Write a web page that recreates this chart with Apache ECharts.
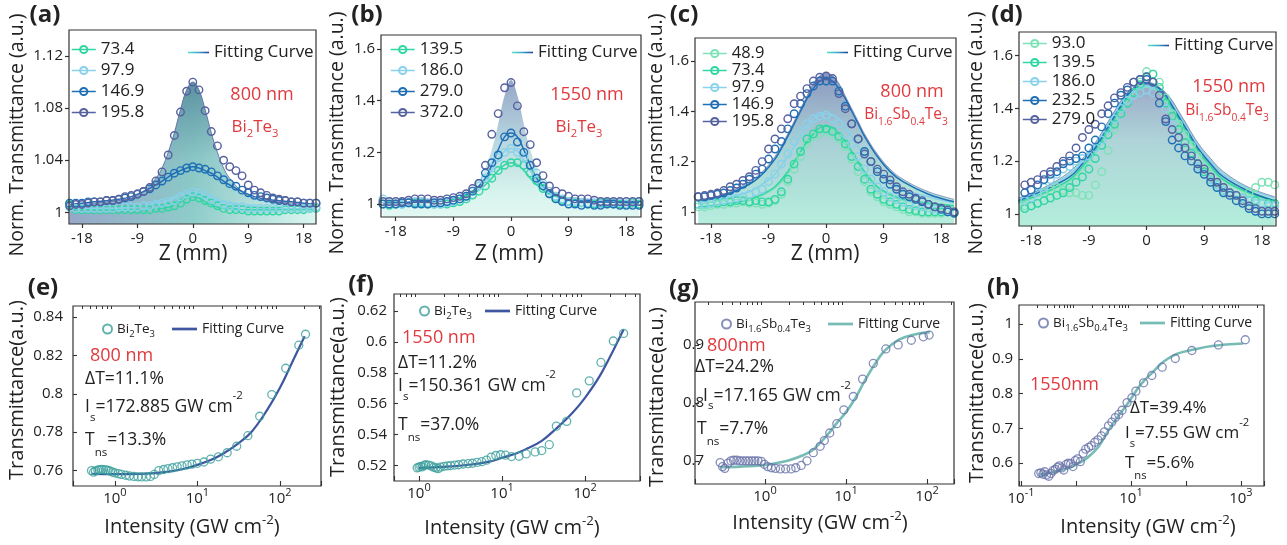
<!DOCTYPE html>
<html>
<head>
<meta charset="utf-8">
<title>Z-scan and saturable absorption</title>
<script src="https://cdn.jsdelivr.net/npm/echarts@6.0.0/dist/echarts.min.js"></script>
<style>
  html, body { margin: 0; padding: 0; background: #fff; }
  #chart { width: 1287px; height: 545px; }
</style>
</head>
<body>
<div id="chart"></div>
<script>
// ---------- data: open-aperture Z-scan (top row) ----------
const zPos = [-20,-19,-18,-17,-16,-15,-14,-13,-12,-11,-10,-9,-8,-7,-6,-5,-4,-3,-2,-1,0,1,2,3,4,5,6,7,8,9,10,11,12,13,14,15,16,17,18,19,20];
const zFit = [-20,-16,-12,-10,-8,-6,-5,-4,-3,-2,-1,0,1,2,3,4,5,6,8,10,12,16,20];
const zTicks = [-18, -9, 0, 9, 18];

// (a) Bi2Te3, 800 nm
const aNames = ['73.4', '97.9', '146.9', '195.8'];
const aT73 = [1.006,1.002,1.002,1.002,1.002,1.002,1.002,1.002,1.002,1.002,1.002,1.002,1.002,1.002,1.003,1.003,1.004,1.005,1.007,1.010,1.012,1.011,1.009,1.007,1.005,1.003,1.002,1.002,1.002,1.001,1.001,1.001,1.001,1.001,1.001,1.002,1.002,1.002,1.002,1.003,1.003];
const aT97 = [1.004,1.003,1.003,1.003,1.003,1.003,1.003,1.003,1.004,1.004,1.004,1.004,1.005,1.005,1.006,1.007,1.008,1.009,1.012,1.014,1.0155,1.015,1.013,1.010,1.008,1.006,1.005,1.004,1.004,1.003,1.003,1.003,1.003,1.003,1.003,1.003,1.003,1.003,1.003,1.003,1.004];
const aT146 = [1.007,1.007,1.007,1.008,1.008,1.008,1.009,1.009,1.010,1.011,1.012,1.014,1.016,1.018,1.021,1.024,1.027,1.030,1.032,1.034,1.035,1.034,1.033,1.031,1.028,1.025,1.022,1.020,1.017,1.015,1.013,1.012,1.011,1.010,1.009,1.009,1.008,1.008,1.007,1.007,1.007];
const aT195 = [1.005,1.006,1.006,1.007,1.008,1.008,1.009,1.009,1.010,1.012,1.013,1.014,1.016,1.019,1.024,1.031,1.044,1.059,1.077,1.093,1.100,1.094,1.078,1.062,1.051,1.040,1.035,1.032,1.028,1.021,1.017,1.015,1.013,1.011,1.010,1.009,1.008,1.008,1.007,1.007,1.007];
const aF73 = [1.002,1.002,1.002,1.002,1.002,1.003,1.003,1.004,1.006,1.008,1.011,1.012,1.011,1.008,1.006,1.004,1.003,1.003,1.002,1.002,1.002,1.002,1.002];
const aF97 = [1.003,1.003,1.003,1.004,1.005,1.007,1.008,1.009,1.011,1.013,1.015,1.0155,1.015,1.013,1.011,1.009,1.008,1.007,1.005,1.004,1.003,1.003,1.003];
const aF146 = [1.006,1.008,1.010,1.012,1.016,1.021,1.024,1.027,1.030,1.032,1.034,1.035,1.034,1.032,1.030,1.027,1.024,1.021,1.016,1.012,1.010,1.008,1.006];
const aF195 = [1.005,1.007,1.009,1.011,1.016,1.026,1.034,1.046,1.061,1.079,1.094,1.100,1.094,1.079,1.061,1.046,1.034,1.026,1.016,1.011,1.009,1.007,1.005];
const aTicksY = [1, 1.04, 1.08, 1.12];

// (b) Bi2Te3, 1550 nm
const bNames = ['139.5', '186.0', '279.0', '372.0'];
const bT139 = [1.00,0.995,1.00,1.00,1.005,1.005,1.005,1.00,1.00,1.00,1.00,1.005,1.01,1.02,1.035,1.05,1.07,1.10,1.13,1.15,1.16,1.16,1.15,1.12,1.09,1.06,1.04,1.025,1.015,1.01,1.005,1.005,1.00,1.00,1.005,1.005,1.00,1.00,1.00,1.005,1.00];
const bT186 = [1.02,1.01,1.00,1.00,1.005,1.01,1.01,1.005,1.00,1.00,1.005,1.01,1.02,1.03,1.05,1.07,1.10,1.14,1.18,1.20,1.215,1.20,1.18,1.15,1.12,1.08,1.05,1.03,1.02,1.01,1.01,1.005,1.005,1.005,1.00,1.00,1.005,1.005,1.00,1.00,1.01];
const bT279 = [1.00,1.00,1.00,1.005,1.005,1.00,1.00,1.00,1.005,1.005,1.01,1.015,1.02,1.03,1.05,1.08,1.12,1.16,1.19,1.26,1.275,1.24,1.20,1.15,1.10,1.07,1.04,1.02,1.01,1.00,1.00,0.995,1.00,0.995,0.995,1.00,1.00,0.995,0.995,0.995,0.995];
const bT372 = [1.01,1.01,1.01,1.01,1.015,1.02,1.02,1.02,1.015,1.015,1.02,1.025,1.03,1.04,1.06,1.08,1.15,1.27,1.35,1.45,1.47,1.38,1.28,1.23,1.16,1.11,1.07,1.05,1.04,1.03,1.02,1.02,1.02,1.015,1.01,1.01,1.01,1.01,1.01,1.01,1.01];
const bF139 = [1.005,1.007,1.010,1.015,1.022,1.040,1.055,1.075,1.100,1.130,1.152,1.160,1.152,1.130,1.100,1.075,1.055,1.040,1.022,1.015,1.010,1.007,1.005];
const bF186 = [1.005,1.007,1.010,1.015,1.025,1.045,1.065,1.090,1.130,1.170,1.205,1.215,1.205,1.170,1.130,1.090,1.065,1.045,1.025,1.015,1.010,1.007,1.005];
const bF279 = [1.005,1.007,1.010,1.015,1.025,1.050,1.070,1.100,1.150,1.210,1.260,1.275,1.260,1.210,1.150,1.100,1.070,1.050,1.025,1.015,1.010,1.007,1.005];
const bF372 = [1.010,1.012,1.020,1.025,1.035,1.060,1.090,1.140,1.210,1.310,1.420,1.480,1.420,1.310,1.210,1.140,1.090,1.060,1.035,1.025,1.020,1.012,1.010];
const bTicksY = [1, 1.2, 1.4, 1.6];

// (c) Bi1.6Sb0.4Te3, 800 nm
const cNames = ['48.9', '73.4', '97.9', '146.9', '195.8'];
const cT48 = [1.02,1.02,1.025,1.03,1.03,1.035,1.035,1.04,1.035,1.035,1.03,1.035,1.045,1.07,1.12,1.17,1.22,1.27,1.30,1.31,1.32,1.31,1.29,1.26,1.21,1.16,1.12,1.08,1.06,1.04,1.03,1.02,1.01,1.00,1.00,0.995,0.995,0.995,0.995,1.00,1.00];
const cT73 = [1.03,1.03,1.035,1.035,1.04,1.04,1.045,1.045,1.04,1.045,1.04,1.04,1.05,1.08,1.13,1.19,1.24,1.29,1.31,1.33,1.33,1.32,1.30,1.27,1.22,1.18,1.13,1.09,1.07,1.05,1.04,1.03,1.02,1.01,1.005,1.00,1.00,1.00,1.00,1.00,0.995];
const cT97 = [1.03,1.03,1.035,1.04,1.045,1.05,1.055,1.06,1.07,1.08,1.09,1.12,1.15,1.19,1.23,1.28,1.32,1.35,1.37,1.38,1.385,1.37,1.35,1.31,1.27,1.22,1.17,1.13,1.10,1.08,1.06,1.05,1.04,1.03,1.025,1.02,1.015,1.01,1.01,1.005,1.00];
const cT146 = [1.06,1.06,1.065,1.07,1.075,1.085,1.095,1.11,1.13,1.15,1.17,1.21,1.25,1.28,1.33,1.39,1.43,1.47,1.50,1.52,1.52,1.52,1.48,1.42,1.35,1.29,1.24,1.20,1.16,1.13,1.11,1.09,1.07,1.06,1.05,1.04,1.03,1.02,1.01,1.00,0.995];
const cT195 = [1.06,1.065,1.07,1.075,1.085,1.10,1.11,1.125,1.14,1.165,1.20,1.25,1.29,1.33,1.37,1.43,1.46,1.49,1.52,1.535,1.54,1.53,1.47,1.41,1.35,1.29,1.23,1.20,1.17,1.15,1.127,1.10,1.08,1.07,1.055,1.045,1.03,1.02,1.015,1.008,1.00];
const cF48 = [1.020,1.030,1.045,1.065,1.095,1.150,1.190,1.230,1.270,1.300,1.320,1.325,1.320,1.300,1.270,1.230,1.190,1.150,1.095,1.065,1.045,1.030,1.020];
const cF73 = [1.020,1.030,1.050,1.070,1.100,1.160,1.200,1.240,1.280,1.310,1.335,1.340,1.335,1.310,1.280,1.240,1.200,1.160,1.100,1.070,1.050,1.035,1.025];
const cF97 = [1.030,1.050,1.080,1.110,1.150,1.220,1.260,1.300,1.340,1.370,1.385,1.390,1.385,1.370,1.340,1.300,1.260,1.220,1.160,1.120,1.090,1.060,1.035];
const cF146 = [1.040,1.065,1.110,1.150,1.210,1.300,1.350,1.400,1.450,1.490,1.520,1.530,1.520,1.490,1.450,1.400,1.350,1.300,1.220,1.160,1.120,1.070,1.040];
const cF195 = [1.045,1.070,1.120,1.160,1.220,1.310,1.360,1.410,1.460,1.510,1.540,1.550,1.540,1.510,1.460,1.410,1.360,1.310,1.230,1.170,1.130,1.080,1.050];

// (d) Bi1.6Sb0.4Te3, 1550 nm
const dNames = ['93.0', '139.5', '186.0', '232.5', '279.0'];
const dT93 = [1.00,1.03,1.03,1.04,1.08,1.09,1.10,1.09,1.08,1.08,1.07,1.07,1.11,1.16,1.24,1.32,1.38,1.43,1.46,1.50,1.54,1.53,1.50,1.44,1.38,1.34,1.30,1.26,1.22,1.18,1.15,1.12,1.10,1.08,1.07,1.06,1.08,1.10,1.12,1.12,1.11];
const dT139 = [1.00,1.02,1.03,1.04,1.05,1.06,1.07,1.08,1.10,1.12,1.14,1.17,1.21,1.26,1.30,1.34,1.38,1.42,1.46,1.49,1.52,1.53,1.48,1.42,1.37,1.32,1.27,1.23,1.19,1.16,1.13,1.11,1.09,1.08,1.07,1.06,1.05,1.05,1.04,1.04,1.04];
const dT186 = [1.04,1.05,1.06,1.08,1.10,1.13,1.15,1.17,1.18,1.20,1.21,1.22,1.25,1.28,1.32,1.36,1.40,1.43,1.45,1.46,1.47,1.46,1.45,1.40,1.34,1.29,1.25,1.22,1.18,1.15,1.13,1.11,1.09,1.08,1.07,1.06,1.05,1.04,1.04,1.03,1.03];
const dT232 = [1.07,1.08,1.09,1.11,1.13,1.15,1.16,1.19,1.20,1.21,1.22,1.25,1.28,1.33,1.38,1.42,1.45,1.47,1.50,1.51,1.51,1.50,1.42,1.35,1.28,1.25,1.22,1.20,1.17,1.15,1.12,1.10,1.08,1.07,1.05,1.04,1.02,1.01,1.00,1.00,1.00];
const dT279 = [1.10,1.11,1.12,1.13,1.15,1.16,1.18,1.20,1.22,1.25,1.29,1.32,1.34,1.38,1.41,1.44,1.46,1.48,1.50,1.51,1.52,1.50,1.45,1.36,1.32,1.29,1.25,1.22,1.19,1.17,1.14,1.12,1.10,1.08,1.07,1.05,1.03,1.02,1.01,1.01,1.01];
const dF93 = [1.040,1.075,1.125,1.170,1.230,1.310,1.350,1.390,1.430,1.460,1.475,1.480,1.475,1.460,1.430,1.390,1.350,1.310,1.230,1.170,1.125,1.075,1.045];
const dF139 = [1.045,1.080,1.130,1.180,1.240,1.320,1.360,1.400,1.440,1.470,1.480,1.485,1.480,1.470,1.440,1.400,1.360,1.320,1.240,1.180,1.130,1.080,1.050];
const dF186 = [1.055,1.095,1.150,1.200,1.260,1.340,1.380,1.420,1.450,1.470,1.480,1.485,1.480,1.470,1.450,1.420,1.380,1.340,1.260,1.200,1.150,1.095,1.060];
const dF232 = [1.050,1.090,1.140,1.190,1.250,1.330,1.370,1.410,1.450,1.475,1.490,1.495,1.490,1.475,1.450,1.410,1.370,1.330,1.250,1.190,1.140,1.085,1.050];
const dF279 = [1.060,1.100,1.160,1.210,1.270,1.350,1.390,1.430,1.460,1.480,1.495,1.500,1.495,1.480,1.460,1.430,1.390,1.350,1.270,1.210,1.160,1.100,1.065];

// ---------- data: transmittance vs intensity (bottom row) ----------
const eI = [0.52,0.55,0.58,0.62,0.65,0.69,0.73,0.78,0.83,0.88,0.94,1.0,1.1,1.2,1.35,1.5,1.7,1.9,2.1,2.4,2.7,3.0,3.4,3.9,4.4,5.0,5.7,6.5,7.5,8.6,10,12,14.5,18,23,30,41,57,80,118,170,205];
const eT = [0.7600,0.7592,0.7598,0.7603,0.7605,0.7606,0.7605,0.7604,0.7601,0.7597,0.7592,0.7588,0.7584,0.7580,0.7576,0.7572,0.7570,0.7568,0.7567,0.7567,0.7570,0.7580,0.7600,0.7606,0.7610,0.7615,0.7620,0.7625,0.7630,0.7634,0.7638,0.7645,0.7660,0.7672,0.7693,0.7727,0.7782,0.7883,0.7996,0.8133,0.8253,0.8310];
const eFitI = [0.52,1,2,4,7,10,15,20,30,45,70,100,140,200];
const eFitT = [0.7583,0.7582,0.7583,0.7592,0.7610,0.7630,0.7658,0.7685,0.7735,0.7800,0.7915,0.8030,0.8160,0.8300];
const eTicksY = [0.76, 0.78, 0.8, 0.82, 0.84];
const eMinor = [0.4,0.5,0.6,0.7,0.8,0.9,2,3,4,5,6,7,8,9,20,30,40,50,60,70,80,90,200,300];

const fI = [0.95,1.0,1.05,1.1,1.15,1.2,1.3,1.4,1.5,1.6,1.7,1.8,2.0,2.2,2.4,2.7,3.0,3.4,3.9,4.4,5.0,5.7,6.5,7.4,8.4,9.6,11,13,16,19.5,25,30,37,45,60,79,112,155,218,290];
const fT = [0.5185,0.519,0.5195,0.5192,0.52,0.5205,0.5203,0.5198,0.519,0.5185,0.518,0.519,0.5195,0.5198,0.52,0.5203,0.5205,0.521,0.5212,0.5215,0.522,0.5225,0.5235,0.5255,0.5265,0.527,0.5267,0.5258,0.526,0.5275,0.5288,0.5297,0.5335,0.5455,0.5486,0.567,0.5748,0.5867,0.6006,0.6055];
const fFitI = [1,2,4,7,10,15,20,30,45,70,100,150,220,290];
const fFitT = [0.5185,0.5192,0.5205,0.5225,0.525,0.528,0.531,0.536,0.544,0.554,0.564,0.578,0.595,0.608];
const fTicksY = [0.52, 0.54, 0.56, 0.58, 0.6, 0.62];
const fMinor = [0.6,0.7,0.8,0.9,2,3,4,5,6,7,8,9,20,30,40,50,60,70,80,90,200,300,400];

const gI = [0.28,0.30,0.32,0.35,0.38,0.41,0.45,0.49,0.53,0.58,0.63,0.69,0.75,0.82,0.90,0.98,1.08,1.2,1.35,1.55,1.8,2.1,2.4,2.8,3.3,3.95,4.8,5.4,6.3,7.7,9.4,12.3,16,21.7,31,44,64,90,106];
const gT = [0.697,0.690,0.687,0.696,0.700,0.701,0.701,0.700,0.700,0.700,0.700,0.700,0.700,0.700,0.699,0.694,0.690,0.688,0.687,0.686,0.686,0.686,0.688,0.692,0.700,0.714,0.725,0.735,0.748,0.764,0.788,0.811,0.841,0.868,0.893,0.900,0.908,0.914,0.917];
const gFitI = [0.28,0.5,1,1.5,2,3,4,6,8,10,13,17,22,30,45,70,108];
const gFitT = [0.689,0.690,0.693,0.697,0.701,0.710,0.720,0.746,0.768,0.784,0.808,0.838,0.864,0.890,0.909,0.918,0.922];
const gTicksY = [0.7, 0.8, 0.9];
const gMinor = [0.2,0.3,0.4,0.5,0.6,0.7,0.8,0.9,2,3,4,5,6,7,8,9,20,30,40,50,60,70,80,90,200];

const hI = [0.21,0.23,0.25,0.27,0.29,0.32,0.35,0.38,0.42,0.46,0.5,0.55,0.6,0.66,0.73,0.8,0.88,0.97,1.07,1.2,1.35,1.5,1.7,1.9,2.2,2.5,2.9,3.3,3.9,4.5,5.2,6.0,6.9,8.5,10.4,12.3,17,24,37,64,128,390,1200];
const hT = [0.570,0.572,0.568,0.575,0.566,0.562,0.570,0.578,0.582,0.588,0.592,0.586,0.580,0.596,0.600,0.598,0.590,0.607,0.612,0.604,0.628,0.640,0.645,0.650,0.660,0.667,0.678,0.690,0.707,0.718,0.731,0.740,0.752,0.774,0.788,0.807,0.831,0.852,0.876,0.901,0.924,0.940,0.955];
const hFitI = [0.21,0.4,0.7,1,1.6,2.5,4,6,8,10,15,25,40,70,130,300,1100];
const hFitT = [0.566,0.574,0.585,0.595,0.615,0.645,0.697,0.737,0.763,0.785,0.826,0.862,0.893,0.915,0.926,0.937,0.944];
const hTicksY = [0.6, 0.7, 0.8, 0.9, 1];
const hMinor = [0.2,0.3,0.4,0.5,0.6,0.7,0.8,0.9,2,3,4,5,6,7,8,9,20,30,40,50,60,70,80,90,200,300,400,500,600,700,800,900,2000];

// ---------- styling ----------
const FONT = 'Open Sans';
const INK = '#222';
const C = {
  lgreen: '#7fe2b6', green: '#2fd6a2', lblue: '#88d1ea', blue: '#1f6fb6', slate: '#56619f',
  red: '#e0393e', teal: '#3a9f9b', navy: '#3e56a0', fitTeal: '#76bcb4', pts: '#6872a8'
};
const lin = (x2, y2, stops) => ({
  type: 'linear', x: 0, y: 0, x2, y2, global: false,
  colorStops: stops.map(([offset, color]) => ({ offset, color }))
});
const pair = (xs, ys) => xs.map((x, i) => [x, ys[i]]);
const fitIconGrad = lin(1, 0, [[0, '#55e0bf'], [0.5, '#39a6cf'], [1, '#1d3f95']]);
const FIT_ICON = 'path://M0,0H24V1.8H0Z';
const BFIT_ICON = 'path://M0,0H24V2.6H0Z';

const topPanels = [
  { key: 'a', box: [69, 30, 247, 194], xr: [-20.1, 20], yr: [0.991, 1.14], yTicks: aTicksY,
    names: aNames, pts: [aT73, aT97, aT146, aT195], fits: [aF73, aF97, aF146, aF195],
    colors: [C.green, C.lblue, C.blue, C.slate], topLine: 1,
    fills: [lin(1, 0, [[0, '#97a7c9'], [0.5, '#8fcdca'], [1, '#dcf7f1']]),
            lin(0, 1, [[0, 'rgba(38,88,120,0.5)'], [0.55, 'rgba(38,88,120,0.06)'], [1, 'rgba(38,88,120,0)']])],
    leg: { left: 71, top: 41, size: 17, lh: 17, gap: 4 }, fitLeg: { left: 188, top: 44 } },
  { key: 'b', box: [381, 35, 260, 182], xr: [-20.3, 20.3], yr: [0.95, 1.654], yTicks: bTicksY,
    names: bNames, pts: [bT139, bT186, bT279, bT372], fits: [bF139, bF186, bF279, bF372],
    colors: [C.green, C.lblue, C.blue, C.slate], topLine: 0,
    fills: [lin(0, 1, [[0, '#95a6c7'], [0.45, '#b8d7df'], [0.8, '#d6f2ec'], [1, '#e3f8f2']])],
    leg: { left: 390, top: 41, size: 17, lh: 17, gap: 4 }, fitLeg: { left: 512, top: 44 } },
  { key: 'c', box: [695, 38, 261, 186], xr: [-20.5, 20.3], yr: [0.952, 1.691], yTicks: bTicksY,
    names: cNames, pts: [cT48, cT73, cT97, cT146, cT195], fits: [cF48, cF73, cF97, cF146, cF195],
    colors: [C.lgreen, C.green, C.lblue, C.blue, C.slate], topLine: 0.8,
    fills: [lin(0, 1, [[0, '#8c98bf'], [0.45, '#a8cfd5'], [1, '#b6eedd']])],
    leg: { left: 702, top: 45, size: 16.5, lh: 15, gap: 0 }, fitLeg: { left: 827, top: 44 } },
  { key: 'd', box: [1019, 32, 257, 194], xr: [-19.9, 20.2], yr: [0.954, 1.69], yTicks: bTicksY,
    names: dNames, pts: [dT93, dT139, dT186, dT232, dT279], fits: [dF93, dF139, dF186, dF232, dF279],
    colors: [C.lgreen, C.green, C.lblue, C.blue, C.slate], topLine: 0.8,
    fills: [lin(0, 1, [[0, '#9ba8c7'], [0.4, '#aed3d8'], [1, '#b3eedb']])],
    leg: { left: 1022, top: 35, size: 17, lh: 16, gap: 2 }, fitLeg: { left: 1148, top: 37 } }
];

const bottomPanels = [
  { key: 'e', box: [73, 306, 248, 180], xr: [0.31, 316], yr: [0.752, 0.8457], yTicks: eTicksY, minor: eMinor,
    I: eI, T: eT, fitI: eFitI, fitT: eFitT, ptColor: C.teal, fitColor: C.navy, fitWidth: 2.2,
    label: 'Bi{s|2}Te{s|3}', yMargin: 10, ptsLeg: { left: 102, top: 319 }, fitLeg: { left: 172, top: 319 } },
  { key: 'f', box: [394, 294, 246, 187], xr: [0.5, 457], yr: [0.510, 0.631], yTicks: fTicksY, minor: fMinor,
    I: fI, T: fT, fitI: fFitI, fitT: fFitT, ptColor: C.teal, fitColor: C.navy, fitWidth: 2.2,
    label: 'Bi{s|2}Te{s|3}', yMargin: 7, ptsLeg: { left: 419, top: 301 }, fitLeg: { left: 485, top: 301 } },
  { key: 'g', box: [695, 302, 259, 182], xr: [0.137, 215], yr: [0.660, 0.974], yTicks: gTicksY, minor: gMinor,
    I: gI, T: gT, fitI: gFitI, fitT: gFitT, ptColor: C.pts, fitColor: C.fitTeal, fitWidth: 2.6,
    label: 'Bi{s|1.6}Sb{s|0.4}Te{s|3}', yMargin: -9, ptsLeg: { left: 721, top: 314 }, fitLeg: { left: 828, top: 314 } },
  { key: 'h', box: [1019, 305, 245, 181], xr: [0.092, 2630], yr: [0.534, 1.055], yTicks: hTicksY, minor: hMinor,
    I: hI, T: hT, fitI: hFitI, fitT: hFitT, ptColor: C.pts, fitColor: C.fitTeal, fitWidth: 2.6, every2: true,
    label: 'Bi{s|1.6}Sb{s|0.4}Te{s|3}', yMargin: 6, ptsLeg: { left: 1038, top: 313 }, fitLeg: { left: 1140, top: 313 } }
];

const grids = [], xAxes = [], yAxes = [], series = [], legends = [];
const numFmt = v => String(+Number(v).toFixed(3));

function addGrid(box) {
  grids.push({ left: box[0], top: box[1], width: box[2], height: box[3], show: true,
    borderColor: '#333', borderWidth: 1.2, backgroundColor: 'transparent', z: 10, outerBoundsMode: 'none' });
  return grids.length - 1;
}

topPanels.forEach(p => {
  const gi = addGrid(p.box);
  const xi = xAxes.length, yi = yAxes.length;
  xAxes.push({ type: 'value', gridIndex: gi, min: p.xr[0], max: p.xr[1], z: 11,
    axisLine: { show: false, onZero: false }, splitLine: { show: false },
    axisTick: { customValues: zTicks, length: 4, lineStyle: { color: '#333', width: 1.2 } },
    axisLabel: { customValues: zTicks, fontSize: 15, fontFamily: FONT, color: INK, margin: 7 } });
  yAxes.push({ type: 'value', gridIndex: gi, min: p.yr[0], max: p.yr[1], z: 11,
    axisLine: { show: false, onZero: false }, splitLine: { show: false },
    axisTick: { customValues: p.yTicks, length: 4, lineStyle: { color: '#333', width: 1.2 } },
    axisLabel: { customValues: p.yTicks, fontSize: 15, fontFamily: FONT, color: INK, margin: 6, formatter: numFmt } });

  const top = p.fits[p.fits.length - 1];
  p.fills.forEach(f => series.push({
    type: 'line', xAxisIndex: xi, yAxisIndex: yi, data: pair(zFit, top), smooth: 0.4,
    showSymbol: false, silent: true, z: 1,
    lineStyle: { width: 0 }, areaStyle: { origin: 'start', color: f, opacity: 1 }
  }));
  p.fits.forEach((f, k) => {
    const isTop = k === p.fits.length - 1;
    series.push({
      name: p.key + ':Fitting Curve', type: 'line', xAxisIndex: xi, yAxisIndex: yi,
      data: pair(zFit, f), smooth: 0.4, showSymbol: false, silent: true, z: 2,
      lineStyle: { width: isTop ? p.topLine : 1.5, color: p.colors[k], opacity: isTop ? 0.8 : 1 },
      itemStyle: { color: p.colors[k] }
    });
  });
  p.pts.forEach((d, k) => series.push({
    name: p.key + ':' + p.names[k], type: 'line', xAxisIndex: xi, yAxisIndex: yi,
    data: pair(zPos, d), symbol: 'circle', symbolSize: 7.5, showSymbol: true, silent: true, z: 3,
    lineStyle: { width: 0, color: p.colors[k] },
    itemStyle: { color: 'transparent', borderColor: p.colors[k], borderWidth: 1.4 }
  }));

  legends.push({
    left: p.leg.left, top: p.leg.top, orient: 'vertical', padding: 0, itemGap: p.leg.gap,
    itemWidth: 24, itemHeight: 9, selectedMode: false,
    data: p.names.map(n => p.key + ':' + n),
    formatter: n => n.slice(2),
    lineStyle: { width: 1.5 },
    textStyle: { fontSize: p.leg.size, lineHeight: p.leg.lh, fontFamily: FONT, color: INK }
  });
  legends.push({
    left: p.fitLeg.left, top: p.fitLeg.top, padding: 0, itemWidth: 21, itemHeight: 9, selectedMode: false,
    data: [{ name: p.key + ':Fitting Curve', icon: FIT_ICON, itemStyle: { color: fitIconGrad } }],
    formatter: n => n.slice(2),
    textStyle: { fontSize: 17, fontFamily: FONT, color: INK }
  });
});

bottomPanels.forEach(p => {
  const gi = addGrid(p.box);
  const xi = xAxes.length, yi = yAxes.length;
  xAxes.push({ type: 'log', logBase: 10, gridIndex: gi, min: p.xr[0], max: p.xr[1], z: 11,
    axisLine: { show: false, onZero: false }, splitLine: { show: false },
    axisTick: { inside: true, length: 5, lineStyle: { color: '#333', width: 1.1 } },
    axisLabel: {
      fontSize: 15, fontFamily: FONT, color: INK, margin: 1, lineHeight: 24,
      formatter: v => {
        const e = Math.log10(v), r = Math.round(e);
        if (Math.abs(e - r) > 1e-6) return '';
        if (p.every2 && r % 2 === 0) return '';
        return '10{p|' + r + '}';
      },
      rich: { p: { fontSize: 11, lineHeight: 12, verticalAlign: 'top', fontFamily: FONT, color: INK } }
    } });
  xAxes.push({ type: 'log', logBase: 10, gridIndex: gi, min: p.xr[0], max: p.xr[1], z: 11,
    axisLine: { show: false, onZero: false }, splitLine: { show: false }, axisLabel: { show: false },
    axisTick: { inside: true, length: 3, customValues: p.minor, lineStyle: { color: '#333', width: 1 } } });
  yAxes.push({ type: 'value', gridIndex: gi, min: p.yr[0], max: p.yr[1], z: 11,
    axisLine: { show: false, onZero: false }, splitLine: { show: false },
    axisTick: { inside: true, customValues: p.yTicks, length: 4, lineStyle: { color: '#333', width: 1.1 } },
    axisLabel: { customValues: p.yTicks, fontSize: 15, fontFamily: FONT, color: INK, margin: p.yMargin, formatter: numFmt } });

  series.push({
    name: p.key + ':Fitting Curve', type: 'line', xAxisIndex: xi, yAxisIndex: yi,
    data: pair(p.fitI, p.fitT), smooth: 0.4, showSymbol: false, silent: true, z: 2,
    lineStyle: { width: p.fitWidth, color: p.fitColor }, itemStyle: { color: p.fitColor }
  });
  series.push({
    name: p.key + ':pts', type: 'scatter', xAxisIndex: xi, yAxisIndex: yi,
    data: pair(p.I, p.T), symbol: 'circle', symbolSize: 8, silent: true, z: 3,
    itemStyle: { color: 'transparent', borderColor: p.ptColor, borderWidth: 1.3 }
  });

  const rich = { s: { fontSize: 9.5, lineHeight: 10, verticalAlign: 'bottom', fontFamily: FONT, color: INK } };
  legends.push({
    left: p.ptsLeg.left, top: p.ptsLeg.top, padding: 0, itemWidth: 9, itemHeight: 9, selectedMode: false,
    data: [p.key + ':pts'], formatter: () => p.label,
    textStyle: { fontSize: 13.5, lineHeight: 20, fontFamily: FONT, color: INK, rich }
  });
  legends.push({
    left: p.fitLeg.left, top: p.fitLeg.top, padding: 0, itemWidth: 25, itemHeight: 9, selectedMode: false,
    data: [{ name: p.key + ':Fitting Curve', icon: BFIT_ICON }], formatter: n => n.slice(2),
    textStyle: { fontSize: 14, lineHeight: 20, fontFamily: FONT, color: INK }
  });
});

// ---------- texts: axis titles, panel letters, annotations ----------
function txt(x, y, text, o = {}) {
  const size = o.size || 18;
  const d = o.drop || 0, r = o.rise || 0;
  const L = 2 * Math.max(d, r, 4) + 14;
  return {
    type: 'text', x, y, rotation: o.rot || 0, silent: true, z: 100,
    style: {
      text, fill: o.color || INK, fontSize: size, fontFamily: FONT, fontWeight: o.bold ? 'bold' : 'normal',
      align: o.align || 'center', textAlign: o.align || 'center',
      verticalAlign: 'middle', textVerticalAlign: 'middle', lineHeight: L,
      rich: {
        s: { fontSize: size * 0.66, fontFamily: FONT, fill: o.color || INK, lineHeight: L - 2 * d, verticalAlign: 'bottom' },
        p: { fontSize: size * 0.66, fontFamily: FONT, fill: o.color || INK, lineHeight: L - 2 * r, verticalAlign: 'top' }
      }
    }
  };
}
const ROT = Math.PI / 2;
const graphics = [
  txt(45, 15, '(a)', { size: 24, bold: true }), txt(367, 15, '(b)', { size: 24, bold: true }),
  txt(684, 15, '(c)', { size: 24, bold: true }), txt(1007, 15, '(d)', { size: 24, bold: true }),
  txt(43, 288, '(e)', { size: 24, bold: true }), txt(361, 285, '(f)', { size: 24, bold: true }),
  txt(684, 289, '(g)', { size: 24, bold: true }), txt(1003, 288, '(h)', { size: 24, bold: true }),

  txt(17, 135, 'Norm. Transmittance (a.u.)', { size: 19.5, rot: ROT }),
  txt(337, 133, 'Norm. Transmittance (a.u.)', { size: 19.5, rot: ROT }),
  txt(656, 135, 'Norm. Transmittance (a.u.)', { size: 19.5, rot: ROT }),
  txt(976, 133, 'Norm. Transmittance (a.u.)', { size: 19.5, rot: ROT }),
  txt(193, 254, 'Z (mm)', { size: 21 }), txt(509, 254, 'Z (mm)', { size: 21 }), txt(825, 254, 'Z (mm)', { size: 21 }),

  txt(17, 390, 'Transmittance(a.u.)', { size: 20, rot: ROT }),
  txt(338, 387, 'Transmittance(a.u.)', { size: 20, rot: ROT }),
  txt(657, 397, 'Transmittance(a.u.)', { size: 20, rot: ROT }),
  txt(977, 393, 'Transmittance(a.u.)', { size: 20, rot: ROT }),
  txt(192, 527, 'Intensity (GW cm{p|-2})', { size: 20, rise: 6 }),
  txt(512, 528, 'Intensity (GW cm{p|-2})', { size: 20, rise: 6 }),
  txt(820, 523, 'Intensity (GW cm{p|-2})', { size: 20, rise: 6 }),
  txt(1148, 527, 'Intensity (GW cm{p|-2})', { size: 20, rise: 6 }),

  txt(262, 95, '800 nm', { size: 18, color: C.red }),
  txt(255, 127, 'Bi{s|2}Te{s|3}', { size: 17, color: C.red, drop: 5 }),
  txt(587, 95, '1550 nm', { size: 18, color: C.red }),
  txt(579, 127, 'Bi{s|2}Te{s|3}', { size: 17, color: C.red, drop: 5 }),
  txt(912, 92, '800 nm', { size: 18, color: C.red }),
  txt(906, 115, 'Bi{s|1.6}Sb{s|0.4}Te{s|3}', { size: 15.5, color: C.red, drop: 5 }),
  txt(1229, 87, '1550 nm', { size: 18, color: C.red }),
  txt(1227, 111, 'Bi{s|1.6}Sb{s|0.4}Te{s|3}', { size: 15.5, color: C.red, drop: 5 }),

  txt(90, 356, '800 nm', { size: 18, color: C.red, align: 'left' }),
  txt(85, 379, 'ΔT=11.1%', { size: 17.5, align: 'left' }),
  txt(85, 407, 'I{s|s}=172.885 GW cm{p|-2}', { size: 17.5, align: 'left', drop: 10, rise: 8 }),
  txt(85, 440, 'T{s|ns}=13.3%', { size: 17.5, align: 'left', drop: 12 }),

  txt(402, 338, '1550 nm', { size: 18, color: C.red, align: 'left' }),
  txt(398, 363, 'ΔT=11.2%', { size: 17.5, align: 'left' }),
  txt(398, 386, 'I{s|s}=150.361 GW cm{p|-2}', { size: 17.5, align: 'left', drop: 10, rise: 8 }),
  txt(398, 425, 'T{s|ns}=37.0%', { size: 17.5, align: 'left', drop: 12 }),

  txt(707, 346, '800nm', { size: 18, color: C.red, align: 'left' }),
  txt(695, 367, 'ΔT=24.2%', { size: 17.5, align: 'left' }),
  txt(703, 396, 'I{s|s}=17.165 GW cm{p|-2}', { size: 17.5, align: 'left', drop: 9, rise: 7 }),
  txt(697, 429, 'T{s|ns}=7.7%', { size: 17.5, align: 'left', drop: 12 }),

  txt(1030, 385, '1550nm', { size: 18, color: C.red, align: 'left' }),
  txt(1130, 408, 'ΔT=39.4%', { size: 17, align: 'left' }),
  txt(1125, 433, 'I{s|s}=7.55 GW cm{p|-2}', { size: 17, align: 'left', drop: 9, rise: 7 }),
  txt(1125, 463, 'T{s|ns}=5.6%', { size: 17, align: 'left', drop: 11 })
];

const chart = echarts.init(document.getElementById('chart'), null, { renderer: 'canvas' });
chart.setOption({
  animation: false,
  backgroundColor: '#fff',
  textStyle: { fontFamily: FONT },
  grid: grids,
  xAxis: xAxes,
  yAxis: yAxes,
  legend: legends,
  series,
  graphic: graphics
});
</script>
</body>
</html>
